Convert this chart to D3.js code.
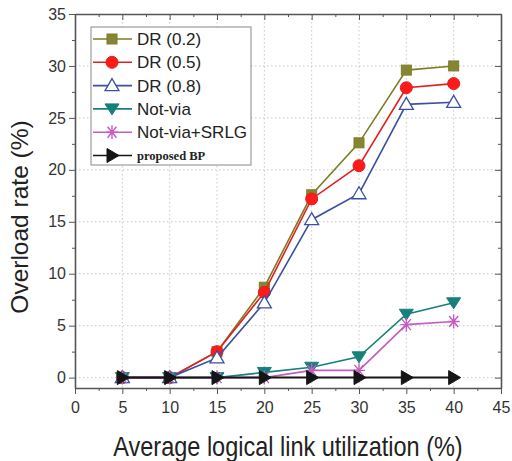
<!DOCTYPE html>
<html>
<head>
<meta charset="UTF-8">
<script src="https://d3js.org/d3.v7.min.js"></script>
<style>
  body { margin: 0; background: #fff; }
  svg { font-family: Arial, "Liberation Sans", sans-serif; }
  .grid line { stroke: #c8c8c8; stroke-dasharray: 1.5 2.5; }
  .axis path, .axis line { stroke: #555; }
  .axis text { fill: #333; font-size: 16px; }
</style>
</head>
<body>
<svg width="512" height="461"></svg>
<script>
  // utilisation (%)
  const xs = [5, 10, 15, 20, 25, 30, 35, 40];

  const dr02 = [0, 0, 2.5, 8.7, 17.6, 22.6, 29.6, 30.0];
  const dr05 = [0, 0, 2.5, 8.2, 17.2, 20.4, 27.9, 28.3];
  const dr08 = [0, 0, 1.9, 7.2, 15.2, 17.7, 26.3, 26.5];
  const notVia = [0, 0, 0, 0.5, 1.0, 2.0, 6.1, 7.2];
  const notViaSrlg = [0, 0, 0, 0, 0.7, 0.7, 5.1, 5.4];
  const proposedBP = [0, 0, 0, 0, 0, 0, 0, 0];

  const seriesNames = ["DR (0.2)", "DR (0.5)", "DR (0.8)", "Not-via", "Not-via+SRLG", "proposed BP"];
  const xTicks = [0, 5, 10, 15, 20, 25, 30, 35, 40, 45];
  const yTicks = [0, 5, 10, 15, 20, 25, 30, 35];

  const series = [
    { name: seriesNames[0], values: dr02, color: "#7d7d25", fill: "#858533", marker: "square" },
    { name: seriesNames[1], values: dr05, color: "#e02020", fill: "#ff1a1a", marker: "circle" },
    { name: seriesNames[2], values: dr08, color: "#3a50a0", fill: "#fff", marker: "triangle" },
    { name: seriesNames[3], values: notVia, color: "#16807a", fill: "#16807a", marker: "triangleDown" },
    { name: seriesNames[4], values: notViaSrlg, color: "#c55cc0", fill: "none", marker: "star" },
    { name: seriesNames[5], values: proposedBP, color: "#151515", fill: "#151515", marker: "triangleRight" }
  ];

  const svg = d3.select("svg");
  const margin = { top: 14, right: 11, bottom: 73, left: 75 };
  const width = 512 - margin.left - margin.right,
        height = 461 - margin.top - margin.bottom;

  const x = d3.scaleLinear().domain([0, 45]).range([0, width]);
  const y = d3.scaleLinear().domain([-1, 35]).range([height, 0]);

  const g = svg.append("g").attr("transform", `translate(${margin.left},${margin.top})`);

  // grille pointillée
  g.append("g").attr("class", "grid")
    .selectAll("line.v").data(xTicks.slice(1, -1)).join("line")
    .attr("x1", d => x(d)).attr("x2", d => x(d)).attr("y1", 0).attr("y2", height);
  g.append("g").attr("class", "grid")
    .selectAll("line.h").data(yTicks.slice(0, -1)).join("line")
    .attr("y1", d => y(d)).attr("y2", d => y(d)).attr("x1", 0).attr("x2", width);

  const minorX = d3.range(2.5, 45, 5);
  const minorY = [2.5, 7.5, 12.5, 17.5, 22.5, 27.5, 32.5];

  // axes principaux
  g.append("g").attr("class", "axis").attr("transform", `translate(0,${height})`)
    .call(d3.axisBottom(x).tickValues(xTicks).tickSize(6).tickSizeOuter(0).tickPadding(8));
  g.append("g").attr("class", "axis").attr("transform", `translate(0,${height})`)
    .call(d3.axisBottom(x).tickValues(minorX).tickSize(3).tickFormat("").tickSizeOuter(0))
    .select(".domain").remove();
  g.append("g").attr("class", "axis")
    .call(d3.axisLeft(y).tickValues(yTicks).tickSize(6).tickSizeOuter(0).tickPadding(3));
  g.append("g").attr("class", "axis")
    .call(d3.axisLeft(y).tickValues(minorY).tickSize(3).tickFormat("").tickSizeOuter(0))
    .select(".domain").remove();

  // axes miroirs (haut / droite), graduations vers l'intérieur
  g.append("g").attr("class", "axis")
    .call(d3.axisTop(x).tickValues(xTicks).tickSize(-6).tickFormat("").tickSizeOuter(0));
  g.append("g").attr("class", "axis")
    .call(d3.axisTop(x).tickValues(minorX).tickSize(-3).tickFormat("").tickSizeOuter(0))
    .select(".domain").remove();
  g.append("g").attr("class", "axis").attr("transform", `translate(${width},0)`)
    .call(d3.axisRight(y).tickValues(yTicks).tickSize(-6).tickFormat("").tickSizeOuter(0));
  g.append("g").attr("class", "axis").attr("transform", `translate(${width},0)`)
    .call(d3.axisRight(y).tickValues(minorY).tickSize(-3).tickFormat("").tickSizeOuter(0))
    .select(".domain").remove();

  g.selectAll(".axis .domain").attr("stroke-width", 1.6);

  // symboles
  function drawMarker(sel, type, color, fill) {
    if (type === "square") {
      sel.append("rect").attr("x", -5).attr("y", -5).attr("width", 10).attr("height", 10)
        .attr("fill", fill).attr("stroke", color).attr("stroke-width", 1);
    } else if (type === "circle") {
      sel.append("circle").attr("r", 6).attr("fill", fill).attr("stroke", color).attr("stroke-width", 1);
    } else if (type === "triangle") {
      sel.append("path").attr("d", "M0,-7 L7,5 L-7,5 Z").attr("fill", fill).attr("stroke", color).attr("stroke-width", 1.3);
    } else if (type === "triangleDown") {
      sel.append("path").attr("d", "M-7,-5 L7,-5 L0,6 Z").attr("fill", fill).attr("stroke", color).attr("stroke-width", 1);
    } else if (type === "triangleRight") {
      sel.append("path").attr("d", "M-5,-7 L7,0 L-5,7 Z").attr("fill", fill).attr("stroke", color).attr("stroke-width", 1);
    } else if (type === "star") {
      sel.append("path").attr("d", "M-6,0 L6,0 M-4.5,-5.5 L4.5,5.5 M-4.5,5.5 L4.5,-5.5 M0,-7 L0,7")
        .attr("fill", "none").attr("stroke", color).attr("stroke-width", 1.4);
    }
  }

  const line = d3.line().x((d, i) => x(xs[i])).y(d => y(d));

  series.forEach(s => {
    const sg = g.append("g");
    sg.append("path").datum(s.values).attr("d", line)
      .attr("fill", "none").attr("stroke", s.color).attr("stroke-width", s.marker === "triangleRight" ? 2 : 1.6);
    sg.selectAll("g.pt").data(s.values).join("g").attr("class", "pt")
      .attr("transform", (d, i) => `translate(${x(xs[i])},${y(d)})`)
      .each(function () { drawMarker(d3.select(this), s.marker, s.color, s.fill); });
  });

  // légende
  const leg = svg.append("g").attr("transform", "translate(91,27)");
  leg.append("rect").attr("width", 160).attr("height", 138)
    .attr("fill", "#fff").attr("stroke", "#888").attr("stroke-width", 1);
  series.forEach((s, i) => {
    const row = leg.append("g").attr("transform", `translate(0,${12 + i * 23.3})`);
    row.append("line").attr("x1", 2).attr("x2", 41).attr("stroke", s.color).attr("stroke-width", 1.6);
    const m = row.append("g").attr("transform", "translate(21,0)");
    drawMarker(m, s.marker, s.color, s.fill);
    const t = row.append("text").attr("x", 46).attr("dy", "0.36em").text(s.name).attr("fill", "#222");
    if (s.marker === "triangleRight") {
      t.attr("font-family", "'Liberation Serif', 'DejaVu Serif', serif").attr("font-weight", "bold").attr("font-size", 12.5);
    } else {
      t.attr("font-size", 17);
    }
  });

  // titres des axes
  svg.append("text").attr("transform", "translate(288,456) scale(1,1.2)")
    .attr("text-anchor", "middle").attr("font-size", 23.5).attr("fill", "#222")
    .text("Average logical link utilization (%)");
  svg.append("text").attr("transform", "translate(28,217) rotate(-90)")
    .attr("text-anchor", "middle").attr("font-size", 24.5).attr("fill", "#222")
    .text("Overload rate (%)");
</script>
</body>
</html>
